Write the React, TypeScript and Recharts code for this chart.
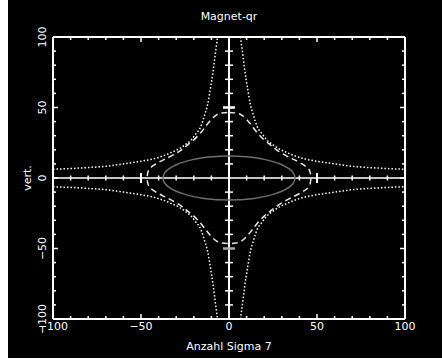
import React from 'react';
import { ComposedChart, Line, Scatter, XAxis, YAxis, ReferenceLine } from 'recharts';

// Frame ticks (every 10), labelled every 50
const frameTicks = [-100, -90, -80, -70, -60, -50, -40, -30, -20, -10, 0, 10, 20, 30, 40, 50, 60, 70, 80, 90, 100];
const labelTicks = [-100, -50, 0, 50, 100];
// Ticks on the inner cross axes
const innerTicks = [-90, -80, -70, -60, -50, -40, -30, -20, -10, 10, 20, 30, 40, 50, 60, 70, 80, 90];

// Dotted curve (upper-right branch, mirrored into the other quadrants)
const hypX = [6.5, 8, 9, 10.5, 12, 14, 16, 19, 21.5, 25, 28, 33, 38.5, 45, 52, 60, 70, 80, 90, 100];
const hypY = [100, 86, 76, 64, 53, 44, 36.5, 31, 27, 23.5, 21, 18, 15.2, 13, 11.5, 10, 8.3, 7.4, 6.7, 6.2];

// Dashed closed curve, first quadrant from top tip to right tip
const dashX = [0, 4, 7, 10, 13, 16, 20, 23.5, 27, 32.2, 37, 41.5, 44.8, 46.1, 46.5];
const dashY = [46.5, 46.1, 44.8, 41.5, 37, 32.2, 27, 23.5, 20, 16, 13, 10, 7, 4, 0];

// Grey ellipse, first quadrant from top to right
const ellX = [0, 5, 10, 15, 20, 25, 30, 34, 36, 37, 37.5];
const ellY = [15.6, 15.5, 15, 14.3, 13.2, 11.6, 9.4, 6.6, 4.4, 2.5, 0];

type P = { x: number; y: number };

const quadrant = (xs: number[], ys: number[]): P[] => xs.map((x, i) => ({ x, y: ys[i] }));

// closed loop: Q1 (top->right), Q4 (right->bottom), Q3 (bottom->left), Q2 (left->top)
const closedLoop = (xs: number[], ys: number[]): P[] => {
  const q = quadrant(xs, ys);
  const q1 = q;
  const q4 = [...q].reverse().map((p) => ({ x: p.x, y: -p.y }));
  const q3 = q.map((p) => ({ x: -p.x, y: -p.y }));
  const q2 = [...q].reverse().map((p) => ({ x: -p.x, y: p.y }));
  return [...q1, ...q4.slice(1), ...q3.slice(1), ...q2.slice(1)];
};

const branch = (sx: number, sy: number): P[] =>
  quadrant(hypX, hypY)
    .map((p) => ({ x: sx * p.x, y: sy * p.y }))
    .sort((a, b) => a.x - b.x);

const dashData = closedLoop(dashX, dashY);
const ellData = closedLoop(ellX, ellY);
const branches = [branch(1, 1), branch(-1, 1), branch(1, -1), branch(-1, -1)];
const hTickData = innerTicks.map((t) => ({ x: t, y: 0 }));
const vTickData = innerTicks.map((t) => ({ x: 0, y: t }));

const FONT = 'DejaVu Sans, sans-serif';
const fmt = (v: number) => (v < 0 ? '\u2212' + Math.abs(v) : String(v));

const BottomTick = (p: any) => {
  const v = p.payload.value;
  const major = v % 50 === 0;
  return (
    <g>
      <line x1={p.x} x2={p.x} y1={p.y} y2={p.y - (major ? 5 : 3)} stroke="#fff" strokeWidth={1.5} />
      {labelTicks.includes(v) && (
        <text x={p.x} y={p.y + 11} fill="#fff" fontSize={11} fontFamily={FONT} textAnchor="middle">
          {fmt(v)}
        </text>
      )}
    </g>
  );
};

const TopTick = (p: any) => {
  const v = p.payload.value;
  const major = v % 50 === 0;
  return <line x1={p.x} x2={p.x} y1={p.y} y2={p.y + (major ? 5 : 3)} stroke="#fff" strokeWidth={1.5} />;
};

const LeftTick = (p: any) => {
  const v = p.payload.value;
  const major = v % 50 === 0;
  const lx = p.x - 11;
  return (
    <g>
      <line x1={p.x} x2={p.x + (major ? 5 : 3)} y1={p.y} y2={p.y} stroke="#fff" strokeWidth={1.5} />
      {labelTicks.includes(v) && (
        <text
          x={lx}
          y={p.y}
          fill="#fff"
          fontSize={11}
          fontFamily={FONT}
          textAnchor="middle"
          dominantBaseline="central"
          transform={`rotate(-90 ${lx} ${p.y})`}
        >
          {fmt(v)}
        </text>
      )}
    </g>
  );
};

const RightTick = (p: any) => {
  const v = p.payload.value;
  const major = v % 50 === 0;
  return <line x1={p.x} x2={p.x - (major ? 5 : 3)} y1={p.y} y2={p.y} stroke="#fff" strokeWidth={1.5} />;
};

const HTickShape = (p: any) => {
  const major = Math.abs(p.payload.x) === 50;
  const h = major ? 5 : 2.5;
  return <line x1={p.cx} x2={p.cx} y1={p.cy - h} y2={p.cy + h} stroke="#fff" strokeWidth={major ? 2 : 1.5} />;
};

const VTickShape = (p: any) => {
  const major = Math.abs(p.payload.y) === 50;
  const w = major ? 6 : 4;
  return <line x1={p.cx - w} x2={p.cx + w} y1={p.cy} y2={p.cy} stroke={p.payload.y === -50 ? '#aaa' : '#fff'} strokeWidth={major ? 2.5 : 1.5} />;
};

const W = 434;
const H = 358;

export default function App() {
  return (
    <div style={{ position: 'absolute', left: 8, top: 0, width: W, height: H, background: '#000' }}>
      <ComposedChart width={W} height={H} margin={{ top: 7, right: 7, bottom: 9, left: 5 }}>
        <XAxis
          xAxisId="b"
          type="number"
          dataKey="x"
          domain={[-100, 100]}
          ticks={frameTicks}
          interval={0}
          tickSize={0}
          tickMargin={0}
          tickLine={false}
          axisLine={{ stroke: '#fff', strokeWidth: 2 }}
          tick={<BottomTick />}
          height={30}
          allowDataOverflow
        />
        <XAxis
          xAxisId="t"
          orientation="top"
          type="number"
          dataKey="x"
          domain={[-100, 100]}
          ticks={frameTicks}
          interval={0}
          tickSize={0}
          tickMargin={0}
          tickLine={false}
          axisLine={{ stroke: '#fff', strokeWidth: 2 }}
          tick={<TopTick />}
          height={30}
          allowDataOverflow
        />
        <YAxis
          yAxisId="l"
          type="number"
          dataKey="y"
          domain={[-100, 100]}
          ticks={frameTicks}
          interval={0}
          tickSize={0}
          tickMargin={0}
          tickLine={false}
          axisLine={{ stroke: '#fff', strokeWidth: 2 }}
          tick={<LeftTick />}
          width={40}
          allowDataOverflow
        />
        <YAxis
          yAxisId="r"
          orientation="right"
          type="number"
          dataKey="y"
          domain={[-100, 100]}
          ticks={frameTicks}
          interval={0}
          tickSize={0}
          tickMargin={0}
          tickLine={false}
          axisLine={{ stroke: '#fff', strokeWidth: 2 }}
          tick={<RightTick />}
          width={30}
          allowDataOverflow
        />
        <ReferenceLine xAxisId="b" yAxisId="l" y={0} stroke="#c4c4c4" strokeWidth={2} />
        <ReferenceLine xAxisId="b" yAxisId="l" x={0} stroke="#fff" strokeWidth={2} />
        <Scatter xAxisId="b" yAxisId="l" data={hTickData} dataKey="y" shape={<HTickShape />} isAnimationActive={false} />
        <Scatter xAxisId="b" yAxisId="l" data={vTickData} dataKey="y" shape={<VTickShape />} isAnimationActive={false} />
        <Line
          xAxisId="b"
          yAxisId="l"
          data={ellData}
          dataKey="y"
          type="natural"
          stroke="#6f6f6f"
          strokeWidth={1.5}
          dot={false}
          activeDot={false}
          isAnimationActive={false}
        />
        <Line
          xAxisId="b"
          yAxisId="l"
          data={dashData}
          dataKey="y"
          type="natural"
          stroke="#e8e8e8"
          strokeWidth={1.5}
          strokeDasharray="6 4"
          dot={false}
          activeDot={false}
          isAnimationActive={false}
        />
        {branches.map((b, i) => (
          <Line
            key={i}
            xAxisId="b"
            yAxisId="l"
            data={b}
            dataKey="y"
            type="monotone"
            stroke="#fff"
            strokeWidth={1.5}
            strokeDasharray="1.5 2"
            dot={false}
            activeDot={false}
            isAnimationActive={false}
          />
        ))}
      </ComposedChart>
      <svg width={W} height={H} style={{ position: 'absolute', left: 0, top: 0, pointerEvents: 'none' }}>
        <text x={221} y={20} fill="#fff" fontSize={11} fontFamily={FONT} textAnchor="middle">
          Magnet-qr
        </text>
        <text x={221} y={350} fill="#fff" fontSize={11} fontFamily={FONT} textAnchor="middle">
          Anzahl Sigma 7
        </text>
        <text
          x={19}
          y={178}
          fill="#fff"
          fontSize={11}
          fontFamily={FONT}
          textAnchor="middle"
          dominantBaseline="central"
          transform="rotate(-90 19 178)"
        >
          vert.
        </text>
      </svg>
    </div>
  );
}
